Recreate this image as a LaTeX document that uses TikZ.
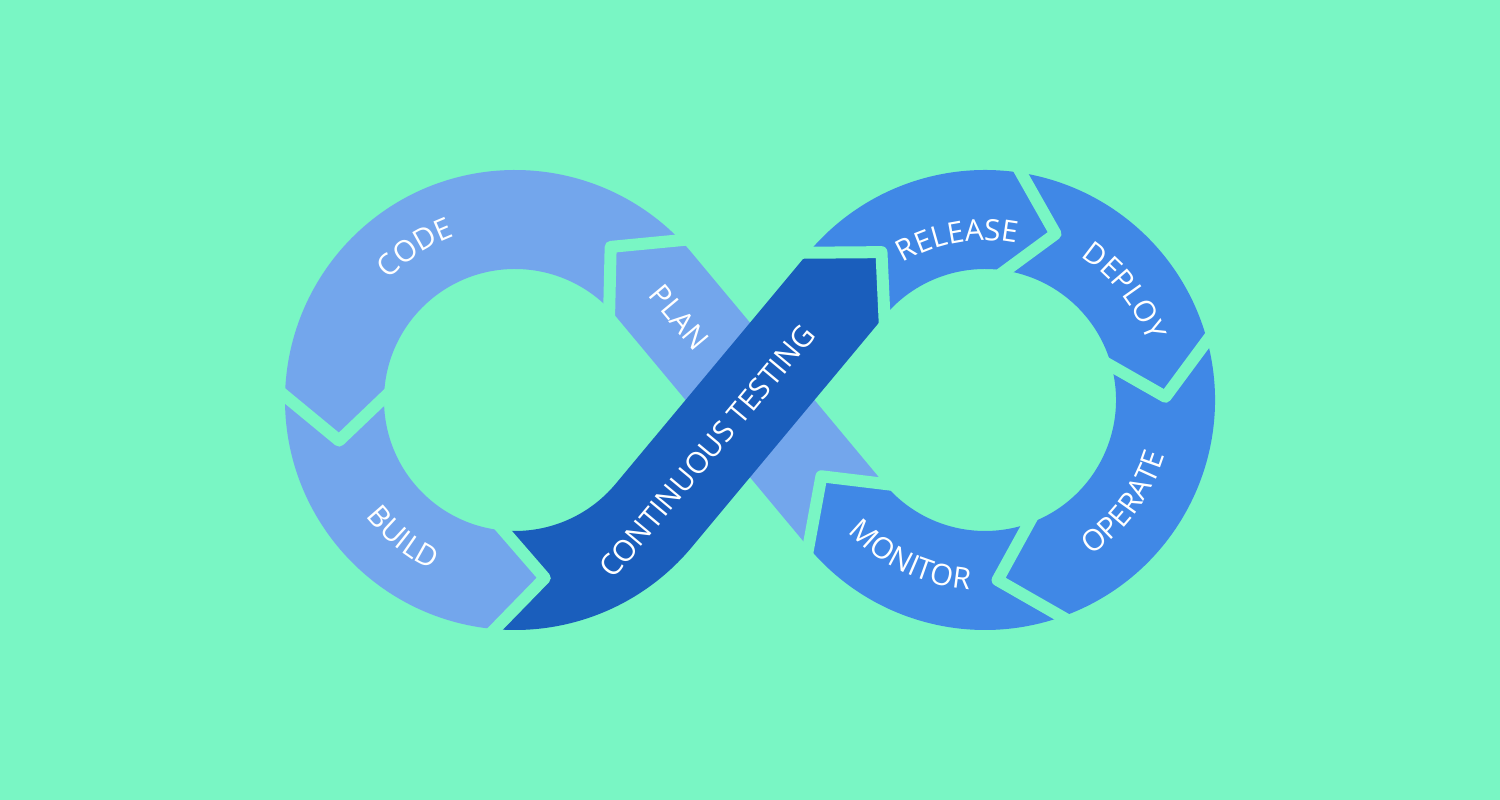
\documentclass[tikz,border=0pt]{standalone}
\usepackage{fontspec}
\setmainfont{Open Sans}
\usetikzlibrary{calc,decorations.text}
\definecolor{bg}{RGB}{121,246,196}
\definecolor{lightb}{RGB}{115,166,236}
\definecolor{midb}{RGB}{64,136,230}
\definecolor{darkb}{RGB}{26,94,188}
\newcommand{\rOut}{230}
\newcommand{\rIn}{131}
\newcommand{\rMid}{180.5}
\newcommand{\lblfont}{\fontsize{8.4}{10}\selectfont}
% segment of one loop: colour, centre, start cut, notch angle, end cut, tip angle
\newcommand{\ringseg}[6]{%
  \fill[#1] ($(#2)+(#3:\rOut)$) arc[start angle=#3, end angle=#5, radius=\rOut]
    [rounded corners=0.11cm] -- ($(#2)+(#6:\rMid)$)
    [sharp corners] -- ($(#2)+(#5:\rIn)$) arc[start angle=#5, end angle=#3, radius=\rIn]
    -- ($(#2)+(#4:\rMid)$) -- cycle;}
% green chevron gap: centre, cut angle, tip angle
\newcommand{\gapchev}[3]{%
  \coordinate (gt) at ($(#1)+(#3:\rMid)$);
  \coordinate (go) at ($(#1)+(#2:\rOut)$);
  \coordinate (gi) at ($(#1)+(#2:\rIn)$);
  \draw[gapline] ($(gt)!1.15!(go)$) -- (gt) -- ($(gt)!1.15!(gi)$);}
% curved labels: centre, angle, radius of text centre, text
\newcommand{\toplabel}[4]{%
  \pgfmathsetmacro{\aA}{#2+40}\pgfmathsetmacro{\aB}{#2-40}\pgfmathsetmacro{\rB}{#3-10.5}
  \path[decorate, decoration={text along path, text align=center, text color=white, text={|\lblfont|#4}}]
    ($(#1)+(\aA:\rB)$) arc[start angle=\aA, end angle=\aB, radius=\rB];}
\newcommand{\botlabel}[4]{%
  \pgfmathsetmacro{\aA}{#2-40}\pgfmathsetmacro{\aB}{#2+40}\pgfmathsetmacro{\rB}{#3+10.5}
  \path[decorate, decoration={text along path, text align=center, text color=white, text={|\lblfont|#4}}]
    ($(#1)+(\aA:\rB)$) arc[start angle=\aA, end angle=\aB, radius=\rB];}
\tikzset{
  gapline/.style={draw=bg, line width=0.12cm, line join=round, line cap=round},
  lbl/.style={text=white, font=\lblfont, inner sep=0pt}
}
\begin{document}
\begin{tikzpicture}[x=0.01cm, y=0.01cm]
\useasboundingbox (0,0) rectangle (1500,800);
\fill[bg] (0,0) rectangle (1500,800);
\coordinate (L) at (515,400);
\coordinate (R) at (985,400);
% PLAN band (behind)
\fill[lightb] ($(R)+(-140.18:\rIn)$) -- ($(L)+(39.82:\rOut)$)
  arc[start angle=39.82, end angle=44, radius=\rOut]
  [rounded corners=0.11cm] -- ($(L)+(58:\rMid)$)
  [sharp corners] -- ($(L)+(44:\rIn)$) arc[start angle=44, end angle=39.82, radius=\rIn]
  -- ($(R)+(-140.18:\rOut)$) -- ($(R)+(-155:\rMid)$) -- cycle;
% ring segments
\ringseg{lightb}{L}{44}{58}{179}{193}
\ringseg{lightb}{L}{179}{193}{265}{279.5}
\ringseg{midb}{R}{140.18}{125}{81}{67}
\ringseg{midb}{R}{81}{67}{15}{1}
\ringseg{midb}{R}{15}{1}{-70.5}{-86}
\ringseg{midb}{R}{-70.5}{-86}{-140.18}{-155}
% CONTINUOUS TESTING band (front)
\fill[darkb] ($(L)+(265:\rOut)$) arc[start angle=265, end angle=320.18, radius=\rOut]
  -- ($(R)+(140.18:\rIn)$)
  [rounded corners=0.11cm] -- ($(R)+(125:\rMid)$)
  [sharp corners] -- ($(R)+(140.18:\rOut)$)
  -- ($(L)+(320.18:\rIn)$) arc[start angle=320.18, end angle=265, radius=\rIn]
  -- ($(L)+(279.5:\rMid)$) -- cycle;
% gaps
\gapchev{L}{44}{58}
\gapchev{L}{179}{193}
\gapchev{L}{265}{279.5}
\gapchev{R}{140.18}{125}
\gapchev{R}{81}{67}
\gapchev{R}{15}{1}
\gapchev{R}{-70.5}{-86}
\gapchev{R}{-140.18}{-155}
% labels
\toplabel{L}{123.3}{185}{CODE}
\toplabel{R}{99.8}{170}{RELEASE}
\toplabel{R}{37.9}{183}{DEPLOY}
\botlabel{L}{231}{179}{BUILD}
\botlabel{R}{-36.3}{178}{OPERATE}
\botlabel{R}{-115.4}{180}{MONITOR}
\node[lbl, rotate=50.18] (ct) at (707.2,348.7) {CONTINUOUS TESTING};
\node[lbl, rotate=-50.18] (plan) at (679.5,482.5) {PLAN};
\end{tikzpicture}
\end{document}
